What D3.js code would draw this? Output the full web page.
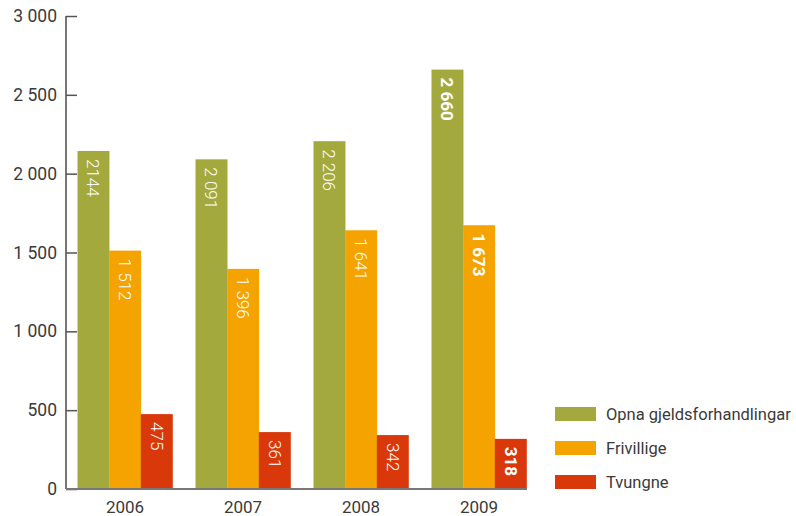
<!DOCTYPE html>
<html>
<head>
<meta charset="utf-8">
<script src="https://cdn.jsdelivr.net/npm/d3@7"></script>
<style>
body { margin: 0; background: #fff; }
text { font-family: Roboto, "Open Sans", sans-serif; }
</style>
</head>
<body>
<div id="chart"></div>
<script>
var width = 796;
var height = 516;

var years = ["2006", "2007", "2008", "2009"];
var series = ["Opna gjeldsforhandlingar", "Frivillige", "Tvungne"];
var opna = [2144, 2091, 2206, 2660];
var frivillige = [1512, 1396, 1641, 1673];
var tvungne = [475, 361, 342, 318];
var opnaLabels = ["2144", "2 091", "2 206", "2 660"];
var frivilligeLabels = ["1 512", "1 396", "1 641", "1 673"];
var tvungneLabels = ["475", "361", "342", "318"];
var yTicks = [0, 500, 1000, 1500, 2000, 2500, 3000];
var yTickLabels = ["0", "500", "1 000", "1 500", "2 000", "2 500", "3 000"];

var colors = ["#a4a93e", "#f4a300", "#d9390a"];
var values = [opna, frivillige, tvungne];
var labels = [opnaLabels, frivilligeLabels, tvungneLabels];

var svg = d3.select("#chart").append("svg")
    .attr("width", width)
    .attr("height", height);

var y = d3.scaleLinear().domain([0, 3000]).range([489, 16]);

var x = d3.scaleBand()
    .domain(years)
    .range([66, 538])
    .paddingInner(0.195)
    .paddingOuter(0.0975);

var xs = d3.scaleBand()
    .domain(series)
    .range([0, x.bandwidth()]);

// y axis
var yAxis = svg.append("g")
    .attr("transform", "translate(66,0)")
    .call(d3.axisRight(y)
        .tickValues(yTicks)
        .tickSize(11)
        .tickFormat(function(d, i) { return ""; }));
yAxis.select(".domain").attr("stroke", "#777").attr("stroke-width", 2).attr("d", "M0,16V489");
yAxis.selectAll(".tick line").attr("stroke", "#555").attr("stroke-width", 1.5);

svg.selectAll("text.ylab")
    .data(yTicks)
    .enter().append("text")
    .attr("class", "ylab")
    .attr("x", 57)
    .attr("y", function(d) { return y(d); })
    .attr("dy", "0.35em")
    .attr("text-anchor", "end")
    .attr("font-size", 17.5)
    .attr("fill", "#3a3a3a")
    .text(function(d, i) { return yTickLabels[i]; });

// bars
var groups = svg.selectAll("g.year")
    .data(years)
    .enter().append("g")
    .attr("class", "year")
    .attr("transform", function(d) { return "translate(" + x(d) + ",0)"; });

groups.each(function(yr, yi) {
    var g = d3.select(this);
    series.forEach(function(s, si) {
        var v = values[si][yi];
        g.append("rect")
            .attr("x", xs(s))
            .attr("y", y(v))
            .attr("width", xs.bandwidth() + 0.3)
            .attr("height", y(0) - y(v))
            .attr("fill", colors[si]);
        g.append("text")
            .attr("transform", "translate(" + (xs(s) + xs.bandwidth() / 2) + "," + (y(v) + 8) + ") rotate(90)")
            .attr("text-anchor", "start")
            .attr("dy", "0.35em")
            .attr("font-size", 17)
            .attr("font-weight", yr == "2009" ? 700 : 300)
            .attr("fill", "#fff")
            .text(labels[si][yi]);
    });
});

// baseline
svg.append("line")
    .attr("x1", 66).attr("x2", 527)
    .attr("y1", y(0)).attr("y2", y(0))
    .attr("stroke", "#777").attr("stroke-width", 2);

svg.selectAll("text.xlab")
    .data(years)
    .enter().append("text")
    .attr("class", "xlab")
    .attr("x", function(d) { return x(d) + x.bandwidth() / 2; })
    .attr("y", 507)
    .attr("dy", "0.35em")
    .attr("text-anchor", "middle")
    .attr("font-size", 17)
    .attr("fill", "#3a3a3a")
    .text(function(d) { return d; });

// legend
var legend = svg.selectAll("g.legend")
    .data(series)
    .enter().append("g")
    .attr("class", "legend")
    .attr("transform", function(d, i) { return "translate(555," + (414 + i * 34) + ")"; });

legend.append("rect")
    .attr("x", 0).attr("y", -7)
    .attr("width", 41).attr("height", 14)
    .attr("fill", function(d, i) { return colors[i]; });

legend.append("text")
    .attr("x", 51)
    .attr("dy", "0.35em")
    .attr("font-size", 16.5)
    .attr("fill", "#3a3a3a")
    .text(function(d) { return d; });
</script>
</body>
</html>
